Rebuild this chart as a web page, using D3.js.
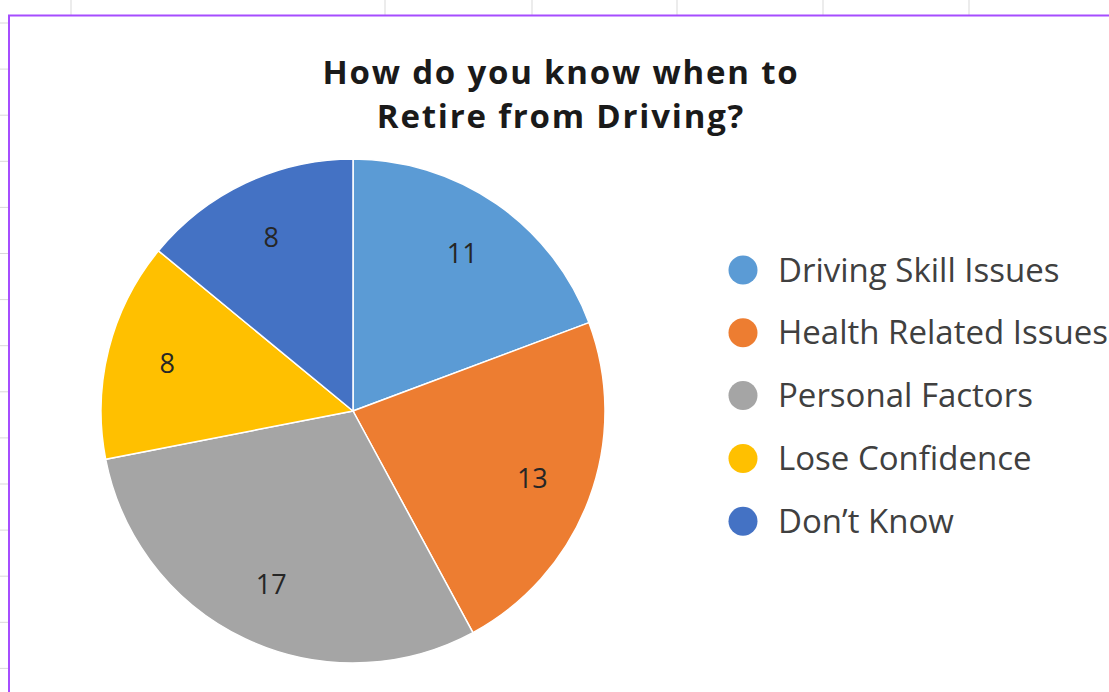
<!DOCTYPE html>
<html>
<head>
<meta charset="utf-8">
<script src="https://cdn.jsdelivr.net/npm/d3@7"></script>
<style>
  body { margin: 0; background: #fff; }
  svg { display: block; }
</style>
</head>
<body>
<svg id="chart"></svg>
<script>
// chart data
const categories = ["Driving Skill Issues", "Health Related Issues", "Personal Factors", "Lose Confidence", "Don\u2019t Know"];
const values = [11, 13, 17, 8, 8];
const colors = ["#5B9BD5", "#ED7D31", "#A5A5A5", "#FFC000", "#4472C4"];
const titleLines = ["How do you know when to", "Retire from Driving?"];

const width = 1109, height = 692;
const svg = d3.select("#chart").attr("width", width).attr("height", height);

// spreadsheet grid behind the chart
const gridX = [71, 385, 532, 677, 823, 969];
const gridY = d3.range(0, 15).map(i => 23 + i * 46.1);
svg.selectAll("line.gx").data(gridX).enter().append("line")
  .attr("x1", d => d).attr("x2", d => d).attr("y1", 0).attr("y2", 15)
  .attr("stroke", "#d9d9d9").attr("stroke-width", 1);
svg.selectAll("line.gy").data(gridY).enter().append("line")
  .attr("x1", 0).attr("x2", 9).attr("y1", d => d).attr("y2", d => d)
  .attr("stroke", "#d9d9d9").attr("stroke-width", 1);

// chart area with purple selection border
svg.append("rect")
  .attr("x", 9).attr("y", 15.5).attr("width", width + 10).attr("height", height)
  .attr("fill", "#fff").attr("stroke", "#A64DFF").attr("stroke-width", 2);

// title, one text per line
svg.selectAll("text.title").data(titleLines).enter().append("text")
  .attr("class", "title")
  .attr("x", 561).attr("y", (d, i) => 84 + i * 44)
  .attr("text-anchor", "middle")
  .attr("font-family", "Open Sans, sans-serif")
  .attr("font-weight", "bold")
  .attr("font-size", 33)
  .attr("letter-spacing", 1.8)
  .attr("fill", "#1a1a1a")
  .text(d => d);

// pie
const cx = 353, cy = 411, radius = 252;
const pie = d3.pie().sort(null).value(d => d);
const arc = d3.arc().innerRadius(0).outerRadius(radius);
const labelArc = d3.arc().innerRadius(radius * 0.76).outerRadius(radius * 0.76);
const color = d3.scaleOrdinal().domain(categories).range(colors);

const g = svg.append("g").attr("transform", `translate(${cx},${cy})`);
const arcs = pie(values);

g.selectAll("path").data(arcs).enter().append("path")
  .attr("d", arc)
  .attr("fill", (d, i) => color(categories[i]))
  .attr("stroke", "#fff").attr("stroke-width", 1.5);

g.selectAll("text").data(arcs).enter().append("text")
  .attr("transform", d => `translate(${labelArc.centroid(d)})`)
  .attr("text-anchor", "middle")
  .attr("dy", "0.35em")
  .attr("font-family", "Open Sans, sans-serif")
  .attr("font-size", 27)
  .attr("fill", "#262626")
  .text(d => d.data);

// legend
const legend = svg.append("g");
const item = legend.selectAll("g").data(categories).enter().append("g")
  .attr("transform", (d, i) => `translate(743, ${270 + i * 62.8})`);
item.append("circle").attr("r", 14.5).attr("fill", d => color(d));
item.append("text")
  .attr("x", 35).attr("dy", "0.35em")
  .attr("font-family", "Open Sans, sans-serif")
  .attr("font-size", 33)
  .attr("fill", "#404040")
  .text(d => d);
</script>
</body>
</html>
